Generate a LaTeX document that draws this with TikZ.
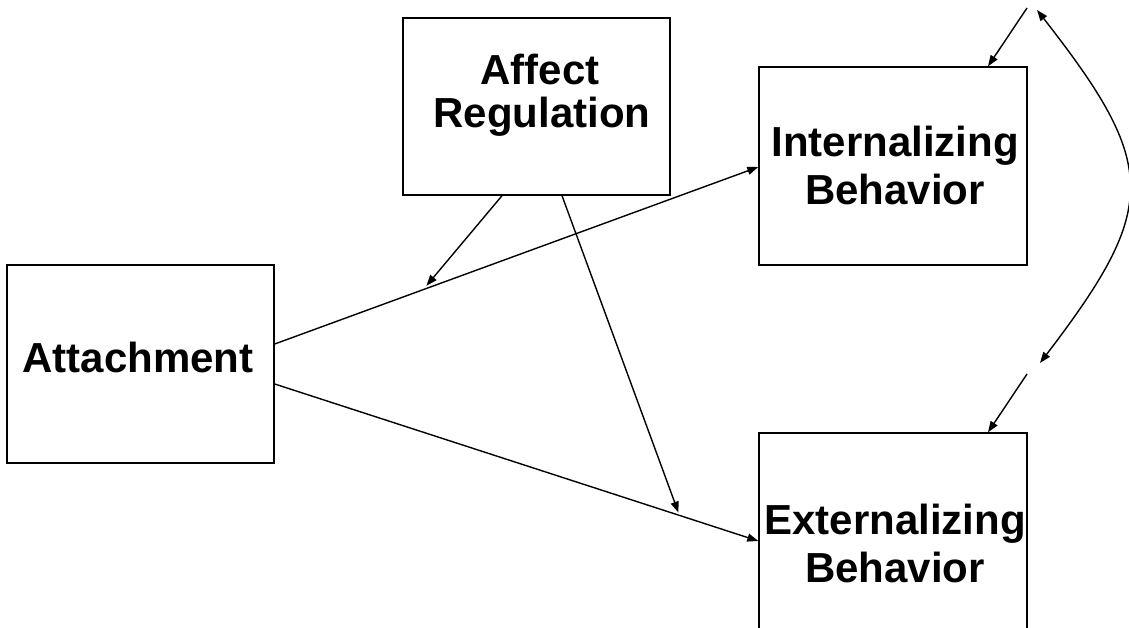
\documentclass[tikz,border=0pt]{standalone}
\usepackage{fontspec}
\setmainfont{Liberation Sans}
\usetikzlibrary{arrows.meta}
\begin{document}
\begin{tikzpicture}[x=1pt,y=-1pt,
  box/.style={draw, line width=1.4pt, rectangle, inner sep=0pt},
  lbl/.style={anchor=base, inner sep=0pt, font=\fontsize{42}{48}\selectfont\bfseries},
  link/.style={line width=1.4pt, -{Triangle[length=11pt,width=8pt]}},
  both/.style={line width=1.4pt, {Triangle[length=11pt,width=8pt]}-{Triangle[length=11pt,width=8pt]}}]
  \useasboundingbox (0,0) rectangle (1129,628);
  \clip (0,0) rectangle (1129,628);
  \fill[white] (0,0) rectangle (1129,628);

  % boxes
  \node[box, minimum width=267pt, minimum height=198pt] (att) at (140.5,364) {};
  \node[box, minimum width=267pt, minimum height=177pt] (aff) at (536.5,106.5) {};
  \node[box, minimum width=268pt, minimum height=198pt] (int) at (893,166) {};
  \node[box, minimum width=268pt, minimum height=198pt] (ext) at (893,532) {};

  % labels
  \node[lbl] (attT) at (138,372) {Attachment};
  \node[lbl] (affT1) at (540,85) {Affect};
  \node[lbl] (affT2) at (542,128) {Regulation};
  \node[lbl] (intT1) at (895,157) {Internalizing};
  \node[lbl] (intT2) at (895,205) {Behavior};
  \node[lbl] (extT1) at (895,534) {Externalizing};
  \node[lbl] (extT2) at (895,582) {Behavior};

  % direct paths
  \draw[link] ([yshift=20pt]att.east) -- coordinate[pos=0.307] (m1) ([yshift=-1pt]int.west);
  \draw[link] ([yshift=-20pt]att.east) -- coordinate[pos=0.837] (m2) ([yshift=-9pt]ext.west);

  % moderation arrows
  \draw[link, shorten >=5pt] ([xshift=-34.5pt]aff.south) -- (m1);
  \draw[link, shorten >=3pt] ([xshift=25.5pt]aff.south) -- (m2);

  % residual arrows and correlation
  \coordinate (t1) at (1027,8);
  \coordinate (t2) at (1027,374);
  \draw[link] (t1) -- ([xshift=95pt]int.north);
  \draw[link] (t2) -- ([xshift=95pt]ext.north);
  \coordinate (c1) at (1037,10);
  \coordinate (c2) at (1040,363);
  \draw[both] (c1) .. controls (1159,166) and (1159,207) .. (c2);
\end{tikzpicture}
\end{document}
